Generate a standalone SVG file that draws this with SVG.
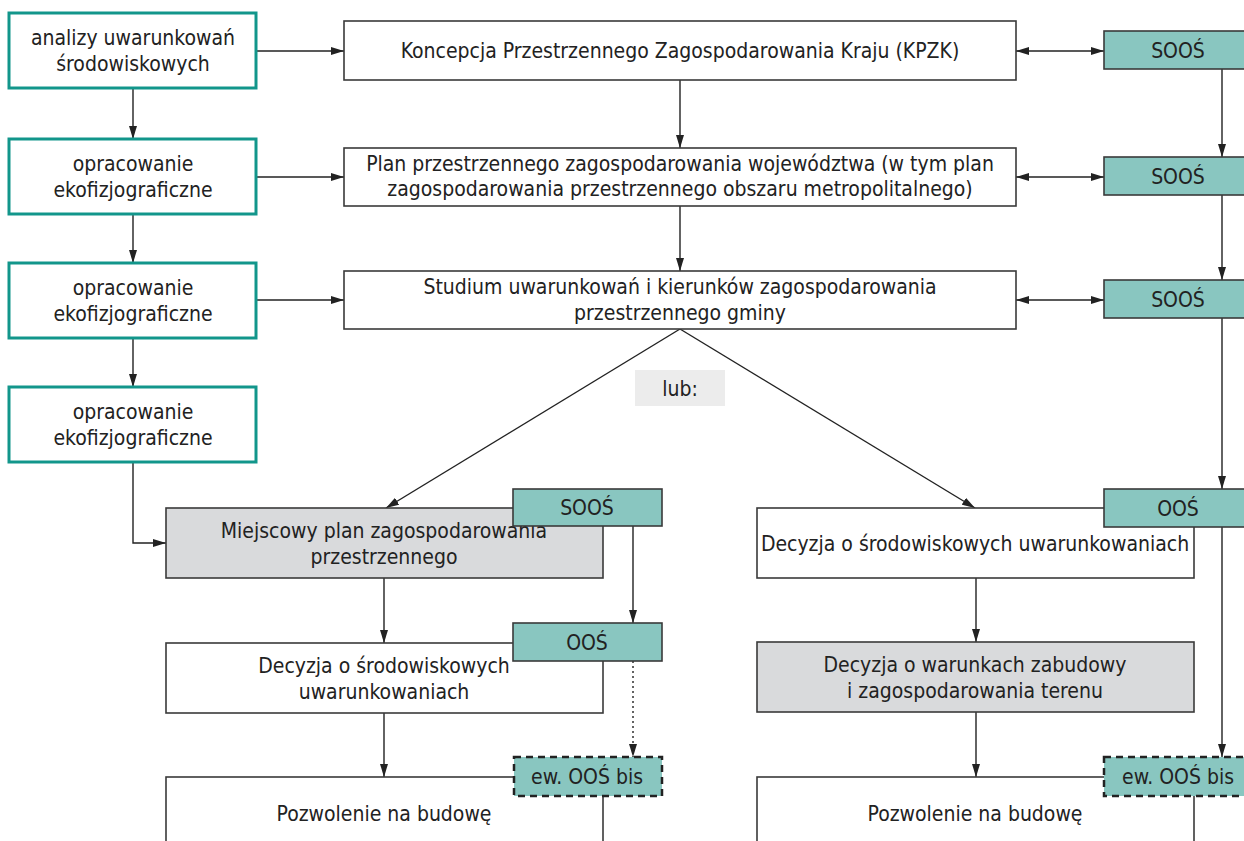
<svg xmlns="http://www.w3.org/2000/svg" width="1244" height="841" viewBox="0 0 1244 841">
<style>
text{font-family:"DejaVu Sans Condensed","DejaVu Sans",sans-serif;font-stretch:condensed;font-size:21px;fill:#222;text-anchor:middle}
.w{fill:#fff;stroke:#3a3a3a;stroke-width:1.6}
.g{fill:#d9dadc;stroke:#3a3a3a;stroke-width:1.6}
.t{fill:#fff;stroke:#12968b;stroke-width:3}
.s{fill:#89c6c0;stroke:#3a3a3a;stroke-width:1.6}
.d{fill:#89c6c0;stroke:#222;stroke-width:2.5;stroke-dasharray:7 5}
.c{fill:none;stroke:#222;stroke-width:1.4}
.dot{fill:none;stroke:#222;stroke-width:1.4;stroke-dasharray:2 3}
</style>
<defs>
<marker id="a" viewBox="0 0 13 8" refX="13" refY="4" markerWidth="13" markerHeight="8" markerUnits="userSpaceOnUse" orient="auto-start-reverse"><path d="M0,0 L13,4 L0,8 z" fill="#222"/></marker>
</defs>
<rect width="1244" height="841" fill="#fff"/>

<g id="connectors">
<path class="c" d="M256,51 H344" marker-end="url(#a)"/>
<path class="c" d="M256,177 H344" marker-end="url(#a)"/>
<path class="c" d="M256,300 H344" marker-end="url(#a)"/>
<path class="c" d="M133,88 V139" marker-end="url(#a)"/>
<path class="c" d="M133,214 V263" marker-end="url(#a)"/>
<path class="c" d="M133,338 V387" marker-end="url(#a)"/>
<path class="c" d="M133,462 V543 H166" marker-end="url(#a)"/>
<path class="c" d="M680,80 V148" marker-end="url(#a)"/>
<path class="c" d="M680,206 V271" marker-end="url(#a)"/>
<path class="c" d="M1016,51 H1104" marker-start="url(#a)" marker-end="url(#a)"/>
<path class="c" d="M1016,177 H1104" marker-start="url(#a)" marker-end="url(#a)"/>
<path class="c" d="M1016,300 H1104" marker-start="url(#a)" marker-end="url(#a)"/>
<path class="c" d="M1222,69 V157" marker-end="url(#a)"/>
<path class="c" d="M1222,195 V280" marker-end="url(#a)"/>
<path class="c" d="M1222,318 V489" marker-end="url(#a)"/>
<path class="c" d="M1222,527 V757" marker-end="url(#a)"/>
<path class="c" d="M680,329 L386,508" marker-end="url(#a)"/>
<path class="c" d="M680,329 L975,508" marker-end="url(#a)"/>
<path class="c" d="M384,578 V643" marker-end="url(#a)"/>
<path class="c" d="M384,713 V777" marker-end="url(#a)"/>
<path class="c" d="M633,526 V623" marker-end="url(#a)"/>
<path class="dot" d="M633,661 V757" marker-end="url(#a)"/>
<path class="c" d="M976,578 V642" marker-end="url(#a)"/>
<path class="c" d="M976,712 V777" marker-end="url(#a)"/>
</g>

<g id="n-analizy"><rect class="t" x="9" y="13" width="247" height="75"/><text x="133" y="45">analizy uwarunkowań</text><text x="133" y="71">środowiskowych</text></g>
<g id="n-eko1"><rect class="t" x="9" y="139" width="247" height="75"/><text x="133" y="171">opracowanie</text><text x="133" y="197">ekofizjograficzne</text></g>
<g id="n-eko2"><rect class="t" x="9" y="263" width="247" height="75"/><text x="133" y="295">opracowanie</text><text x="133" y="321">ekofizjograficzne</text></g>
<g id="n-eko3"><rect class="t" x="9" y="387" width="247" height="75"/><text x="133" y="419">opracowanie</text><text x="133" y="445">ekofizjograficzne</text></g>

<g id="n-kpzk"><rect class="w" x="344" y="21" width="672" height="59"/><text x="680" y="58">Koncepcja Przestrzennego Zagospodarowania Kraju (KPZK)</text></g>
<g id="n-plan"><rect class="w" x="344" y="148" width="672" height="58"/><text x="680" y="171">Plan przestrzennego zagospodarowania województwa (w tym plan</text><text x="680" y="196">zagospodarowania przestrzennego obszaru metropolitalnego)</text></g>
<g id="n-studium"><rect class="w" x="344" y="271" width="672" height="58"/><text x="680" y="294">Studium uwarunkowań i kierunków zagospodarowania</text><text x="680" y="320">przestrzennego gminy</text></g>

<g id="n-sooz1"><rect class="s" x="1104" y="31" width="150" height="38"/><text x="1178" y="58">SOOŚ</text></g>
<g id="n-sooz2"><rect class="s" x="1104" y="157" width="150" height="38"/><text x="1178" y="184">SOOŚ</text></g>
<g id="n-sooz3"><rect class="s" x="1104" y="280" width="150" height="38"/><text x="1178" y="307">SOOŚ</text></g>

<g id="n-lub"><rect x="635" y="370" width="90" height="36" fill="#ececec"/><text x="680" y="396">lub:</text></g>

<g id="n-mpzp"><rect class="g" x="166" y="508" width="437" height="70"/><text x="384" y="538">Miejscowy plan zagospodarowania</text><text x="384" y="564">przestrzennego</text></g>
<g id="n-sooz4"><rect class="s" x="513" y="489" width="149" height="37"/><text x="587" y="515">SOOŚ</text></g>
<g id="n-dsu1"><rect class="w" x="166" y="643" width="437" height="70"/><text x="384" y="673">Decyzja o środowiskowych</text><text x="384" y="699">uwarunkowaniach</text></g>
<g id="n-oos1"><rect class="s" x="513" y="623" width="149" height="38"/><text x="587" y="650">OOŚ</text></g>
<g id="n-pnb1"><rect class="w" x="166" y="777" width="437" height="80"/><text x="384" y="821">Pozwolenie na budowę</text></g>
<g id="n-oosbis1"><rect class="d" x="514" y="757" width="148" height="39"/><text x="587" y="784">ew. OOŚ bis</text></g>

<g id="n-dsu2"><rect class="w" x="757" y="508" width="437" height="70"/><text x="975" y="551">Decyzja o środowiskowych uwarunkowaniach</text></g>
<g id="n-oos2"><rect class="s" x="1104" y="489" width="150" height="38"/><text x="1178" y="516">OOŚ</text></g>
<g id="n-wz"><rect class="g" x="757" y="642" width="437" height="70"/><text x="975" y="672">Decyzja o warunkach zabudowy</text><text x="975" y="698">i zagospodarowania terenu</text></g>
<g id="n-pnb2"><rect class="w" x="757" y="777" width="437" height="80"/><text x="975" y="821">Pozwolenie na budowę</text></g>
<g id="n-oosbis2"><rect class="d" x="1104" y="757" width="150" height="39"/><text x="1178" y="784">ew. OOŚ bis</text></g>
</svg>
